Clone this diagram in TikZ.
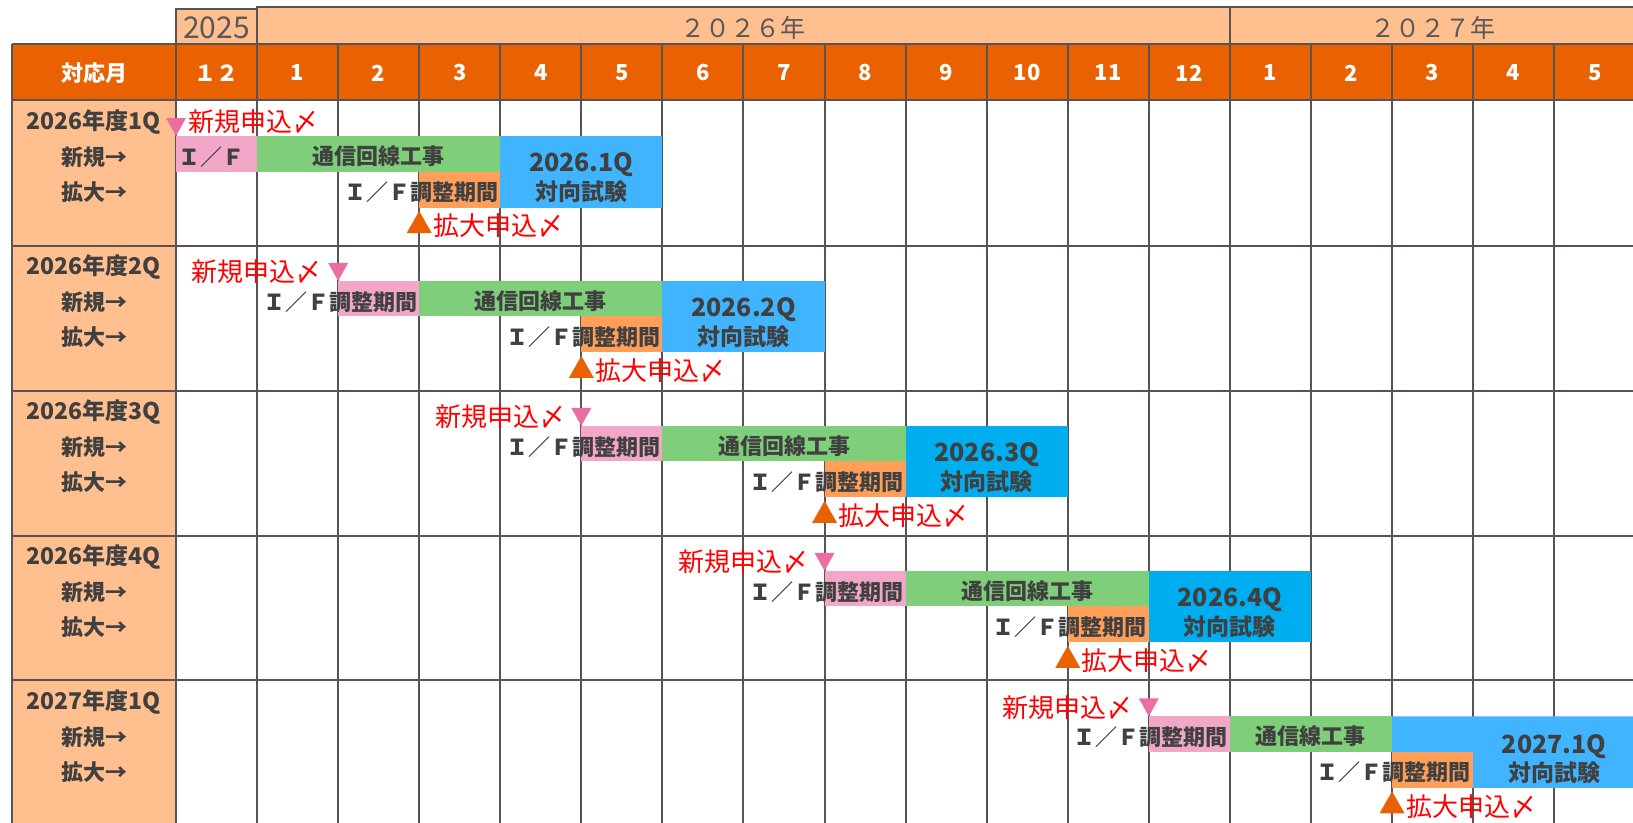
\documentclass[tikz,border=0pt]{standalone}
\usepackage{fontspec}
\setmainfont{Noto Sans CJK JP}
\usetikzlibrary{positioning}
\definecolor{hdrorange}{RGB}{233,97,0}
\definecolor{peach}{RGB}{255,191,143}
\definecolor{gridgray}{RGB}{89,84,84}
\definecolor{textgray}{RGB}{64,64,64}
\definecolor{yeargray}{RGB}{89,89,89}
\definecolor{ifpink}{RGB}{242,167,201}
\definecolor{tripink}{RGB}{233,110,163}
\definecolor{workgreen}{RGB}{126,206,122}
\definecolor{testblue}{RGB}{64,180,255}
\definecolor{testcyan}{RGB}{0,174,239}
\definecolor{adjorange}{RGB}{255,159,90}
\definecolor{markred}{RGB}{255,0,0}
\newcommand{\fsz}[1]{\fontsize{#1}{#1}\selectfont}
\newcommand{\mx}[1]{176+81.07*(#1)}

\begin{document}
\begin{tikzpicture}[x=1pt,y=-1pt,
  gridln/.style={draw=gridgray,line width=2pt},
  rowlbl/.style={font=\bfseries\fsz{22},text=textgray,inner sep=0pt},
  bartxt/.style={font=\bfseries\fsz{22},text=textgray,inner sep=0pt},
  testtxt/.style={font=\bfseries\fsz{25},text=textgray,inner sep=0pt},
  testsub/.style={font=\bfseries\fsz{23},text=textgray,inner sep=0pt},
  redtxt/.style={font=\fsz{26},text=markred,inner sep=0pt},
  hdrtxt/.style={font=\bfseries\fsz{22},text=white,inner sep=0pt},
  yeartxt/.style={font=\fsz{25},text=yeargray,inner sep=0pt}]
\useasboundingbox (0,0) rectangle (1633,822);
\fill[white] (0,0) rectangle (1633,822);

\filldraw[fill=peach,gridln] ({\mx{0}},8.5) rectangle ({\mx{1}},43.5);
\filldraw[fill=peach,gridln] ({\mx{1}},7) rectangle ({\mx{13}},43.5);
\filldraw[fill=peach,gridln] ({\mx{13}},7) rectangle (1645,43.5);
\node[yeartxt,font=\fsz{30}] (y2025) at ({\mx{0.5}},28) {2025};
\node[yeartxt] (y2026) at ({\mx{7}},28) {２０２６年};
\node[yeartxt] (y2027) at ({\mx{15.5}},28) {２０２７年};

\fill[hdrorange] (12,43.5) rectangle (1645,100);
\fill[peach] (12,100) rectangle ({\mx{0}},830);
\draw[gridln] (12,43.5) -- (1645,43.5);
\draw[gridln] (12,43.5) -- (12,830);
\foreach \i in {0,...,17}
  \draw[gridln] ({\mx{\i}},43.5) -- ({\mx{\i}},830);
\foreach \t in {100,245.5,390.5,535.5,680.3}
  \draw[gridln] (12,\t) -- (1645,\t);

\node[hdrtxt] (hdr) at (94,73) {対応月};
\node[hdrtxt] (m0) at ({\mx{0.5}},73) {１２};
\foreach \m [count=\i] in {1,...,12}
  \node[hdrtxt] (m\i) at ({\mx{\i+0.5}},73) {\m};
\foreach \m [count=\i from 13] in {1,...,5}
  \node[hdrtxt] (m\i) at ({\mx{\i+0.5}},73) {\m};

\foreach \g/\fy/\q in {1/2026/1,2/2026/2,3/2026/3,4/2026/4,5/2027/1}{
  \begin{scope}[shift={(0,{100+144.95*(\g-1)})}]
    \node[rowlbl,font=\bfseries\fsz{23}] (term\g) at (94,22) {\fy 年度\q Q};
    \node[rowlbl] (new\g) at (94,57) {新規→};
    \node[rowlbl] (ext\g) at (94,92) {拡大→};
  \end{scope}}

\foreach \g/\p/\fy/\q/\tc in {1/0/2026/1/testblue,2/2/2026/2/testblue,3/5/2026/3/testcyan,4/8/2026/4/testcyan}{
  \begin{scope}[shift={(0,{100+144.95*(\g-1)})}]
    \fill[ifpink] ({\mx{\p}},36) rectangle ({\mx{\p+1}},71.5);
    \fill[workgreen] ({\mx{\p+1}},36) rectangle ({\mx{\p+4}},71.5);
    \fill[adjorange] ({\mx{\p+3}},71.5) rectangle ({\mx{\p+4}},107.5);
    \fill[\tc] ({\mx{\p+4}},36) rectangle ({\mx{\p+6}},107.5);
    \fill[tripink] ({\mx{\p}-10},18) -- ({\mx{\p}+10},18) -- ({\mx{\p}},36) -- cycle;
    \fill[hdrorange] ({\mx{\p+3}-12.5},133) -- ({\mx{\p+3}+12.5},133) -- ({\mx{\p+3}},111) -- cycle;
    \coordinate (newpin\g) at ({\mx{\p}},27);
    \coordinate (extpin\g) at ({\mx{\p+3}},126);
    \node[bartxt] (work\g) at ({\mx{\p+2.5}},56) {通信回線工事};
    \node[bartxt,anchor=east] (extif\g) at ({\mx{\p+4}-2},92) {Ｉ／Ｆ調整期間};
    \node[testtxt] (test\g) at ({\mx{\p+5}},65) {\fy.\q Q};
    \node[testsub,below=27pt of test\g.center,anchor=center] (testname\g) {対向試験};
    \node[redtxt,right=14pt of extpin\g,anchor=west] (extmark\g) {拡大申込〆};
  \end{scope}}

\node[bartxt,anchor=west] (newif1) at ({\mx{0}+2},157) {Ｉ／Ｆ};
\node[redtxt,anchor=west] (newmark1) at ({\mx{0}+12},122) {新規申込〆};
\foreach \g/\p in {2/2,3/5,4/8}{
  \node[bartxt,anchor=east] (newif\g) at ({\mx{\p+1}-2},{100+144.95*(\g-1)+57}) {Ｉ／Ｆ調整期間};
  \node[redtxt,left=16pt of newpin\g,anchor=east] (newmark\g) {新規申込〆};
}

\begin{scope}[shift={(0,680.3)}]
  \fill[ifpink] ({\mx{12}},36) rectangle ({\mx{13}},71.5);
  \fill[workgreen] ({\mx{13}},36) rectangle ({\mx{15}},71.5);
  \fill[adjorange] ({\mx{15}},71.5) rectangle ({\mx{16}},107.5);
  \fill[testblue] ({\mx{15}},36) -- (1645,36) -- (1645,107.5) -- ({\mx{16}},107.5)
    -- ({\mx{16}},71.5) -- ({\mx{15}},71.5) -- cycle;
  \fill[tripink] ({\mx{12}-10},18) -- ({\mx{12}+10},18) -- ({\mx{12}},36) -- cycle;
  \fill[hdrorange] ({\mx{15}-12.5},133) -- ({\mx{15}+12.5},133) -- ({\mx{15}},111) -- cycle;
  \coordinate (newpin5) at ({\mx{12}},27);
  \coordinate (extpin5) at ({\mx{15}},126);
  \node[bartxt,anchor=east] (newif5) at ({\mx{13}-2},57) {Ｉ／Ｆ調整期間};
  \node[bartxt] (work5) at ({\mx{14}},56) {通信線工事};
  \node[bartxt,anchor=east] (extif5) at ({\mx{16}-2},92) {Ｉ／Ｆ調整期間};
  \node[testtxt] (test5) at ({\mx{17}},66) {2027.1Q};
  \node[testsub,below=26pt of test5.center,anchor=center] (testname5) {対向試験};
  \node[redtxt,left=16pt of newpin5,anchor=east] (newmark5) {新規申込〆};
  \node[redtxt,right=14pt of extpin5,anchor=west] (extmark5) {拡大申込〆};
\end{scope}
\end{tikzpicture}
\end{document}
